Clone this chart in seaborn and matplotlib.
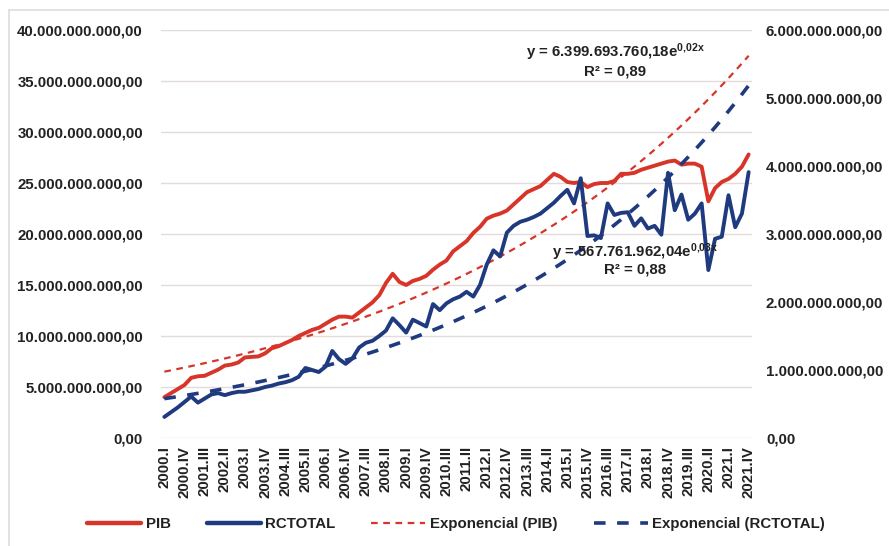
import numpy as np
import pandas as pd
import matplotlib
matplotlib.use("Agg")
import matplotlib.pyplot as plt
from matplotlib.lines import Line2D
from matplotlib.ticker import FuncFormatter, MultipleLocator
import seaborn as sns

# ---------------- data (billions) ----------------
years = list(range(2000, 2022))
quarters = ["I", "II", "III", "IV"]
periods = [f"{y}.{q}" for y in years for q in quarters]

pib_bn = [4.0, 4.4, 4.8, 5.2, 5.9, 6.05, 6.1, 6.4, 6.7, 7.1,
          7.2, 7.4, 7.9, 7.95, 8.0, 8.3, 8.8, 9.0, 9.3, 9.6,
          10.0, 10.3, 10.6, 10.8, 11.2, 11.6, 11.9, 11.9, 11.8, 12.3,
          12.8, 13.3, 14.0, 15.2, 16.1, 15.3, 15.0, 15.4, 15.6, 15.9,
          16.5, 17.0, 17.4, 18.3, 18.8, 19.3, 20.1, 20.7, 21.5, 21.8,
          22.0, 22.3, 22.9, 23.5, 24.1, 24.4, 24.7, 25.3, 25.9, 25.6,
          25.1, 25.0, 25.1, 24.6, 24.9, 25.0, 25.0, 25.2, 25.9, 25.9,
          26.0, 26.3, 26.5, 26.7, 26.9, 27.1, 27.2, 26.8, 26.9, 26.9,
          26.6, 23.2, 24.5, 25.1, 25.4, 25.9, 26.6, 27.8]

rctotal_bn = [0.31, 0.38, 0.45, 0.53, 0.61, 0.52, 0.58, 0.64, 0.66, 0.63,
              0.66, 0.68, 0.68, 0.70, 0.72, 0.75, 0.77, 0.80, 0.82, 0.85,
              0.90, 1.03, 1.00, 0.97, 1.05, 1.28, 1.16, 1.09, 1.17, 1.33,
              1.40, 1.43, 1.50, 1.58, 1.76, 1.66, 1.55, 1.74, 1.69, 1.64,
              1.97, 1.88, 1.98, 2.04, 2.08, 2.15, 2.08, 2.25, 2.55, 2.76,
              2.67, 3.02, 3.12, 3.18, 3.21, 3.25, 3.30, 3.38, 3.46, 3.56,
              3.65, 3.45, 3.82, 2.97, 2.98, 2.94, 3.45, 3.28, 3.31, 3.32,
              3.12, 3.23, 3.08, 3.12, 2.99, 3.90, 3.35, 3.58, 3.21, 3.30,
              3.45, 2.47, 2.93, 2.96, 3.57, 3.10, 3.30, 3.91]

eq_pib = r"y = 6.399.693.760,18e$^{0{,}02x}$"
r2_pib = "R² = 0,89"
eq_rc = r"y = 567.761.962,04e$^{0{,}03x}$"
r2_rc = "R² = 0,88"

# ---------------- frame ----------------
df = pd.DataFrame({
    "pos": np.arange(len(periods)),
    "periodo": periods,
    "PIB": np.array(pib_bn) * 1e9,
    "RCTOTAL": np.array(rctotal_bn) * 1e9,
})
xx = df["pos"].values + 1
for col in ["PIB", "RCTOTAL"]:
    b, a = np.polyfit(xx, np.log(df[col].values), 1)
    df["trend_" + col] = np.exp(a) * np.exp(b * xx)

RED = "#D8352A"
NAVY = "#1F3A7E"
GRID = "#E3DADA"
TXT = "#222222"
FONT = ["Liberation Sans", "DejaVu Sans"]

sns.set_theme(style="white")
plt.rcParams["font.family"] = FONT
plt.rcParams["font.weight"] = "bold"
plt.rcParams["mathtext.fontset"] = "custom"
plt.rcParams["mathtext.rm"] = "Liberation Sans:bold"
plt.rcParams["mathtext.it"] = "Liberation Sans:bold"
plt.rcParams["mathtext.bf"] = "Liberation Sans:bold"
plt.rcParams["mathtext.default"] = "rm"

fig = plt.figure(figsize=(8.89, 5.46), dpi=100)
ax = fig.add_axes([161/889, 1-438/546, (752-161)/889, (438-30)/546])
ax2 = ax.twinx()

sns.lineplot(data=df, x="pos", y="trend_PIB", ax=ax, color=RED, lw=1.6,
             linestyle=(0, (3, 2.5)), zorder=3)
sns.lineplot(data=df, x="pos", y="PIB", ax=ax, color=RED, lw=2.8, zorder=4)
sns.lineplot(data=df, x="pos", y="RCTOTAL", ax=ax2, color=NAVY, lw=2.8, zorder=4)
sns.lineplot(data=df, x="pos", y="trend_RCTOTAL", ax=ax2, color=NAVY, lw=2.6,
             linestyle=(0, (3.2, 3.2)), zorder=3)

n = len(periods)
for a_ in (ax, ax2):
    a_.set_xlim(-0.5, n - 0.5)
    for s in a_.spines.values():
        s.set_visible(False)
    a_.set_xlabel("")
    a_.set_ylabel("")

ax.set_ylim(0, 40e9)
ax.yaxis.set_major_locator(MultipleLocator(5e9))
ax2.set_ylim(0, 6e9)
ax2.yaxis.set_major_locator(MultipleLocator(1e9))


def br_fmt(v, _):
    s = f"{v:,.2f}"
    return s.replace(",", "X").replace(".", ",").replace("X", ".")


ax.yaxis.set_major_formatter(FuncFormatter(br_fmt))
ax2.yaxis.set_major_formatter(FuncFormatter(br_fmt))
ax.grid(axis="y", color=GRID, lw=1.0)
ax.grid(axis="x", visible=False)
ax2.grid(False)
ax.set_axisbelow(True)

ticks = list(range(0, n, 3))
ax.set_xticks(ticks)
ax.set_xticklabels([periods[i] for i in ticks], rotation=90, fontsize=10.8,
                   fontweight="bold", color=TXT)
ax.tick_params(axis="x", length=0, pad=6)
ax.tick_params(axis="y", length=0, pad=13, labelsize=10.8, labelcolor=TXT)
ax2.tick_params(axis="y", length=0, pad=10, labelsize=10.8, labelcolor=TXT)
for t in ax.get_yticklabels() + ax2.get_yticklabels():
    t.set_fontweight("bold")

# equations
fig.text(615/889, 1-52/546, eq_pib, fontsize=10.8, fontweight="bold",
         ha="center", va="center", color=TXT)
fig.text(615/889, 1-72/546, r2_pib, fontsize=10.8, fontweight="bold",
         ha="center", va="center", color=TXT)
fig.text(635/889, 1-252/546, eq_rc, fontsize=10.8, fontweight="bold",
         ha="center", va="center", color=TXT)
fig.text(635/889, 1-269/546, r2_rc, fontsize=10.8, fontweight="bold",
         ha="center", va="center", color=TXT)

# legend
handles = [
    Line2D([], [], color=RED, lw=3.2),
    Line2D([], [], color=NAVY, lw=3.2),
    Line2D([], [], color=RED, lw=1.6, linestyle=(0, (3, 2.5))),
    Line2D([], [], color=NAVY, lw=2.6, linestyle=(0, (3.2, 3.2))),
]
labels = ["PIB", "RCTOTAL", "Exponencial (PIB)", "Exponencial (RCTOTAL)"]
leg = fig.legend(handles, labels, loc="center", bbox_to_anchor=(456/889, 1-524/546),
                 ncol=4, frameon=False, handlelength=3.6, handletextpad=0.3,
                 columnspacing=2.4, prop={"family": FONT, "weight": "bold", "size": 10.8})
for t in leg.get_texts():
    t.set_color(TXT)

# chart-area frame (top and left visible)
fig.add_artist(Line2D([9/889, 9/889], [0, 1-10/546], transform=fig.transFigure,
                      color="#DDDDDD", lw=1.2))
fig.add_artist(Line2D([9/889, 1], [1-10/546, 1-10/546], transform=fig.transFigure,
                      color="#DDDDDD", lw=1.2))

fig.savefig("out.png", dpi=100, facecolor="white")
